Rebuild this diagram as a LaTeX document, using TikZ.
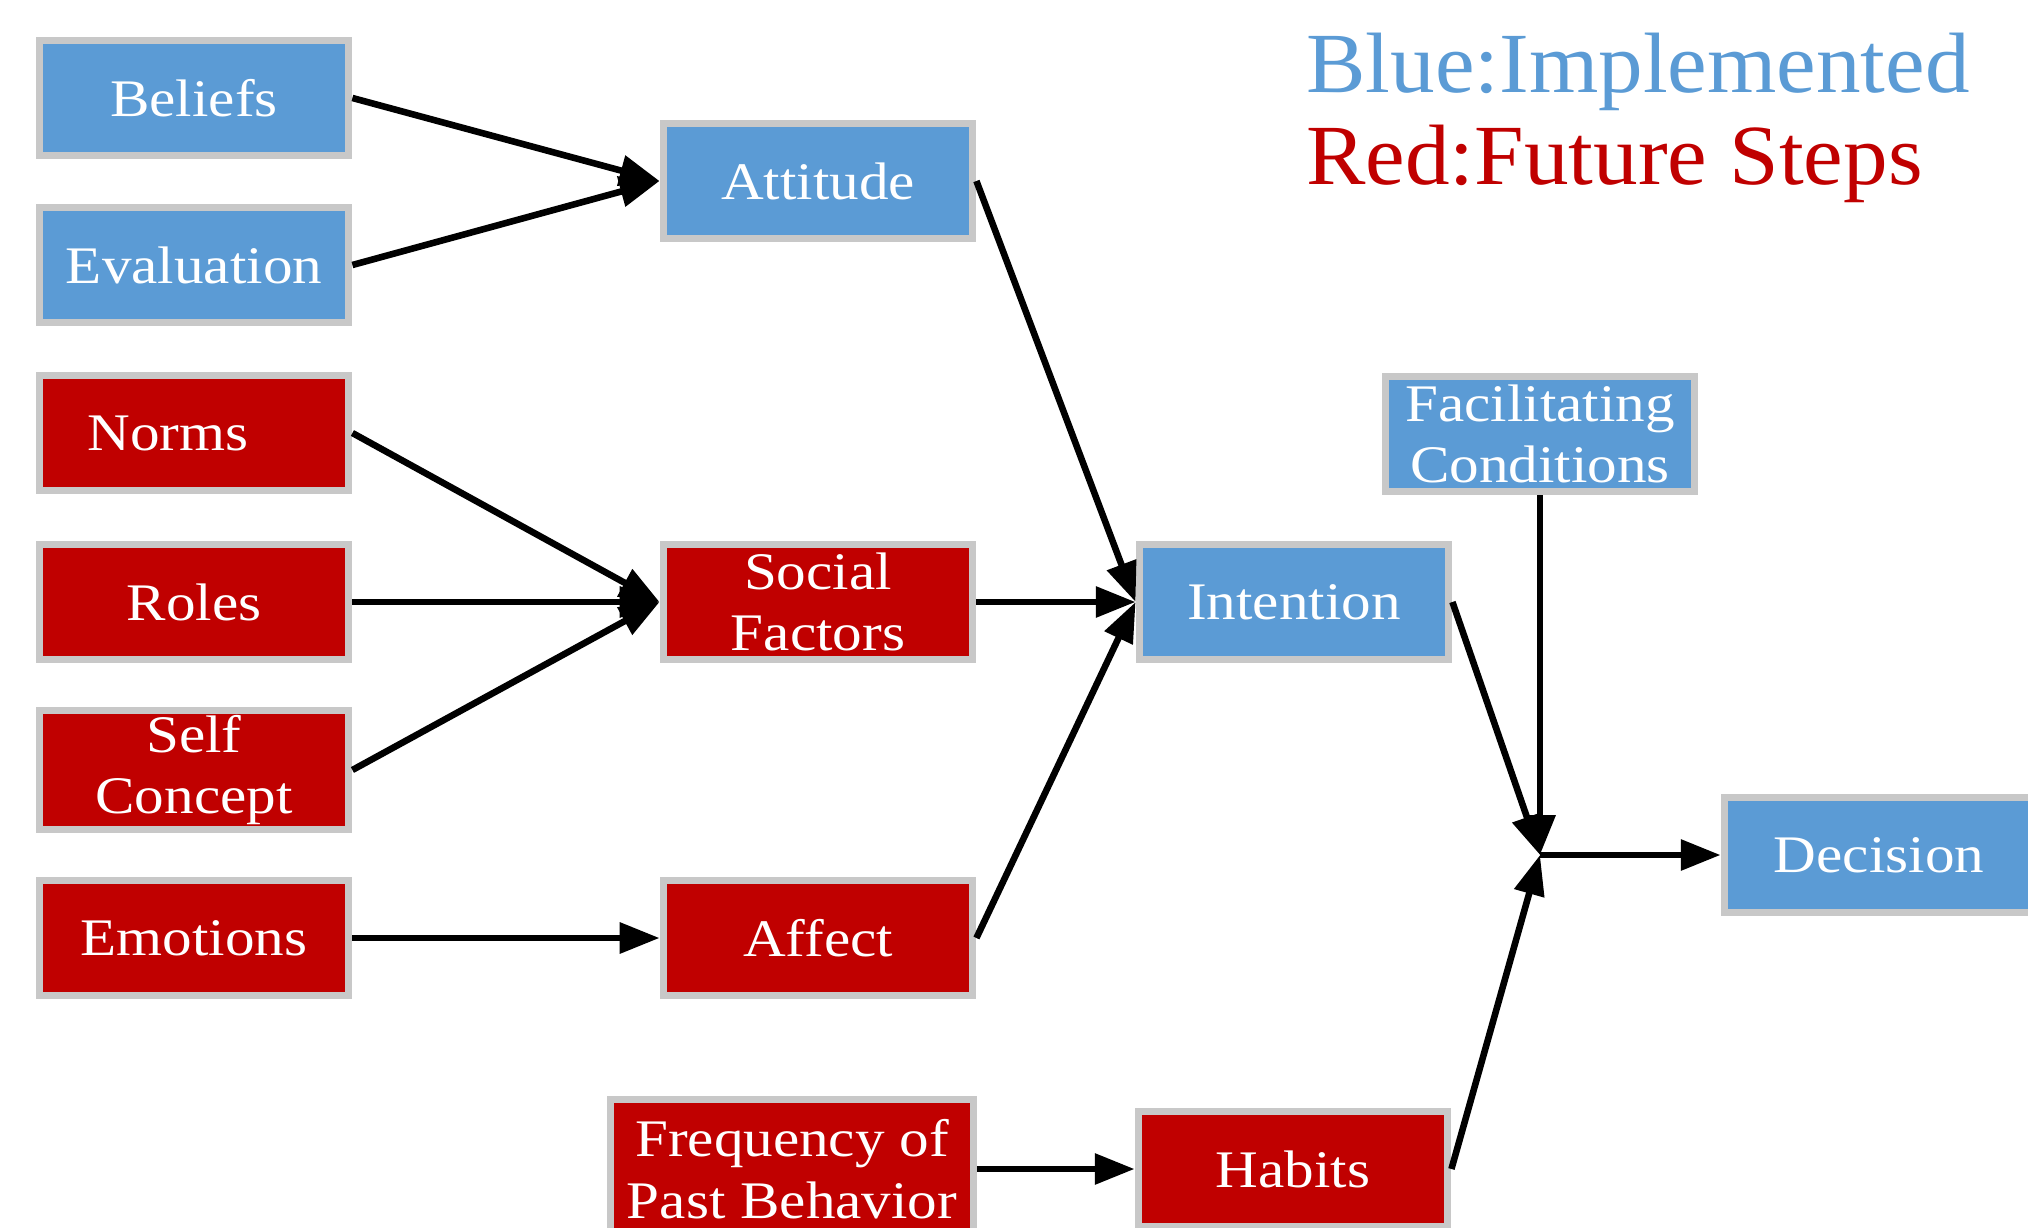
\documentclass[tikz,border=0pt]{standalone}
\usepackage{fontspec}
\setmainfont{Liberation Serif}
\newfontfamily\boxfont{Liberation Serif}[FakeStretch=1.12]
\newfontfamily\legendfont{Liberation Serif}[FakeStretch=1.04]
\usetikzlibrary{arrows.meta}
\definecolor{implblue}{HTML}{5B9BD5}
\definecolor{futurered}{HTML}{C00000}
\definecolor{boxrim}{HTML}{C8C8C8}

\begin{document}
\begin{tikzpicture}[x=0.5bp,y=-0.5bp,
  box/.style={draw=boxrim, line width=3.5pt, text=white, inner sep=2pt,
    minimum width=155.5pt, minimum height=58pt, align=center,
    font=\boxfont\fontsize{26.5}{31}\selectfont},
  implbox/.style={box, fill=implblue},
  futurebox/.style={box, fill=futurered},
  flow/.style={-{Triangle[length=20pt,width=15pt]}, line width=3.3pt},
  legend/.style={anchor=base west, inner sep=0pt, font=\legendfont\fontsize{43}{50}\selectfont}]

\useasboundingbox (0,0) rectangle (2028,1228);

% Position the nodes at their coordinates
\node[implbox] (beliefs) at (194,98) {Beliefs};
\node[implbox] (evaluation) at (194,265) {Evaluation};
\node[futurebox] (norms) at (194,433) {Norms\hspace{26pt}};
\node[futurebox] (roles) at (194,602) {Roles};
\node[futurebox] (selfConcept) at (194,770) {Self\\Concept};
\node[futurebox] (emotions) at (194,938) {Emotions};

\node[implbox] (attitude) at (818,181) {Attitude};
\node[futurebox] (socialFactors) at (818,602) {Social\\Factors};
\node[futurebox] (affect) at (818,938) {Affect};
\node[futurebox, minimum width=182pt, minimum height=69.5pt] (frequency) at (792,1169) {Frequency of\\Past Behavior};

\node[implbox] (intention) at (1294,602) {Intention};
\node[futurebox] (habits) at (1293,1169) {Habits};
\node[implbox] (facilitating) at (1540,434) {Facilitating\\Conditions};
\node[implbox] (decision) at (1879,855) {Decision};
\coordinate (merge) at (1540,855);

\node[legend, text=implblue] (legendImpl) at (1306,93) {Blue:Implemented};
\node[legend, text=futurered] (legendFuture) at (1306,185) {Red:Future Steps};

% Draw the arrows between the nodes
\draw [flow] (beliefs.east) -- (attitude.west);
\draw [flow] (evaluation.east) -- (attitude.west);
\draw [flow] (norms.east) -- (socialFactors.west);
\draw [flow] (roles.east) -- (socialFactors.west);
\draw [flow] (selfConcept.east) -- (socialFactors.west);
\draw [flow] (emotions.east) -- (affect.west);
\draw [flow] (attitude.east) -- (intention.west);
\draw [flow] (socialFactors.east) -- (intention.west);
\draw [flow] (affect.east) -- (intention.west);
\draw [flow] (frequency.east) -- (habits.west);
\draw [flow] (intention.east) -- (merge);
\draw [flow] (facilitating.south) -- (merge);
\draw [flow] (habits.east) -- (merge);
\draw [flow] (merge) -- (decision.west);

\end{tikzpicture}
\end{document}
